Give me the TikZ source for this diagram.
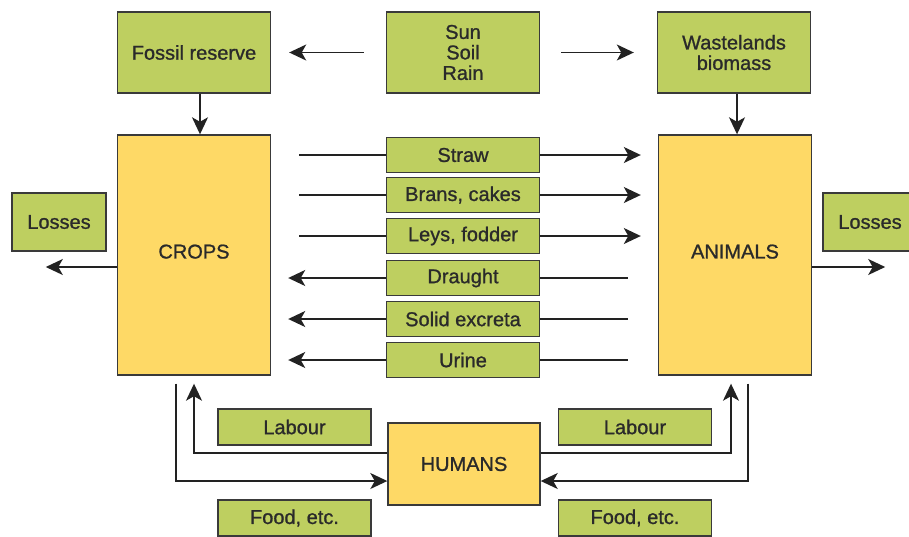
\documentclass[tikz,border=0pt]{standalone}
\usepackage{fontspec}
\setmainfont{Liberation Sans}
\newfontfamily\diagfont{Liberation Sans}[FakeBold=1]
\usepackage{tikz}
\usetikzlibrary{arrows.meta, positioning}
\definecolor{boxgreen}{HTML}{BECF60}
\definecolor{boxyellow}{HTML}{FED966}
\definecolor{boxline}{HTML}{3A3A3A}
\definecolor{arrowline}{HTML}{222222}
\definecolor{boxtext}{HTML}{2A2A2A}
\tikzstyle{greenbox} = [rectangle, minimum width=153pt, minimum height=81pt, inner sep=0pt, align=center, draw=boxline, line width=1.4pt, fill=boxgreen, text=boxtext, font=\diagfont\fontsize{20}{20.5}\selectfont]
\tikzstyle{flow} = [greenbox, minimum height=35pt]
\tikzstyle{bigbox} = [greenbox, fill=boxyellow]
\tikzstyle{arrow} = [line width=1.5pt, draw=arrowline, -{Stealth[length=17pt, width=16pt, inset=4.5pt]}]
\tikzstyle{line} = [line width=1.5pt, draw=arrowline]

\begin{document}
\begin{tikzpicture}[x=1pt, y=-1pt]
        \clip (0,0) rectangle (909,536);
        \fill[white] (0,0) rectangle (909,536);

        % Top row
        \node (fossil) [greenbox] at (194,52.5) {Fossil reserve};
        \node (sun) [greenbox] at (463,52.5) {Sun\\Soil\\Rain};
        \node (waste) [greenbox] at (734,52.5) {Wastelands\\biomass};

        % Crops and animals
        \node (crops) [bigbox, minimum height=240pt] at (194,255) {\raisebox{7pt}{CROPS}};
        \node (animals) [bigbox, minimum height=240pt] at (735,255) {\raisebox{7pt}{ANIMALS}};

        % Losses
        \node (lossL) [greenbox, minimum width=94pt, minimum height=58pt] at (59,222) {Losses};
        \node (lossR) [greenbox, minimum width=94pt, minimum height=58pt] at (870,222) {Losses};

        % Exchanges between crops and animals
        \node (straw) [flow] at (463,155) {Straw};
        \node (brans) [flow] at (463,195) {Brans, cakes};
        \node (leys) [flow] at (463,236) {Leys, fodder};
        \node (draught) [flow] at (463,278) {Draught};
        \node (excreta) [flow] at (463,319) {Solid excreta};
        \node (urine) [flow] at (463,360) {Urine};

        % Humans
        \node (humans) [bigbox, minimum width=152pt, minimum height=82pt] at (464,464) {HUMANS};
        \node (labourL) [flow, minimum height=36pt] at (294.5,427) {Labour};
        \node (labourR) [flow, minimum height=36pt] at (635,427) {Labour};
        \node (foodL) [flow, minimum height=36pt] at (294.5,518) {Food, etc.};
        \node (foodR) [flow, minimum height=36pt] at (635,518) {Food, etc.};

        % Top arrows
        \draw [arrow] ([xshift=-22pt]sun.west) -- ([xshift=18pt]fossil.east);
        \draw [arrow] ([xshift=21pt]sun.east) -- ([xshift=-23pt]waste.west);
        \draw [arrow] ([xshift=6pt]fossil.south) -- ([xshift=6pt]fossil.south |- crops.north);
        \draw [arrow] ([xshift=3pt]waste.south) -- ([xshift=3pt]waste.south |- animals.north);

        % Crops to animals
        \draw [line] ([xshift=28pt]crops.east |- straw.west) -- (straw.west);
        \draw [arrow] (straw.east) -- ([xshift=-17pt]animals.west |- straw.east);
        \draw [line] ([xshift=28pt]crops.east |- brans.west) -- (brans.west);
        \draw [arrow] (brans.east) -- ([xshift=-17pt]animals.west |- brans.east);
        \draw [line] ([xshift=28pt]crops.east |- leys.west) -- (leys.west);
        \draw [arrow] (leys.east) -- ([xshift=-17pt]animals.west |- leys.east);

        % Animals to crops
        \draw [line] ([xshift=-30pt]animals.west |- draught.east) -- (draught.east);
        \draw [arrow] (draught.west) -- ([xshift=17pt]crops.east |- draught.west);
        \draw [line] ([xshift=-30pt]animals.west |- excreta.east) -- (excreta.east);
        \draw [arrow] (excreta.west) -- ([xshift=17pt]crops.east |- excreta.west);
        \draw [line] ([xshift=-30pt]animals.west |- urine.east) -- (urine.east);
        \draw [arrow] (urine.west) -- ([xshift=17pt]crops.east |- urine.west);

        % Losses arrows
        \draw [arrow] ([yshift=-12pt]crops.west) -- ([yshift=-12pt, xshift=-71pt]crops.west);
        \draw [arrow] ([yshift=-12pt]animals.east) -- ([yshift=-12pt, xshift=73pt]animals.east);

        % Humans loops
        \draw [arrow] ([xshift=-18pt, yshift=-8pt]crops.south) |- ([yshift=-17pt]humans.west);
        \draw [arrow] ([yshift=11pt]humans.west) -| ([yshift=-8pt]crops.south);
        \draw [arrow] ([yshift=11pt]humans.east) -| ([xshift=-4pt, yshift=-8pt]animals.south);
        \draw [arrow] ([xshift=13pt, yshift=-8pt]animals.south) |- ([yshift=-17pt]humans.east);
    \end{tikzpicture}
\end{document}
